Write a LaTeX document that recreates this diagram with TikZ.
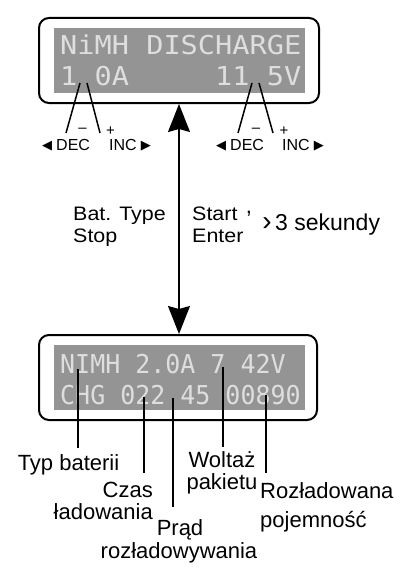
\documentclass[tikz,border=0pt]{standalone}
\usepackage{fontspec}
\setmainfont{Liberation Sans}
\newfontfamily\lcdfont[FakeStretch=1.1]{DejaVu Sans Mono}
\newfontfamily\lcdnarrow[FakeStretch=0.96]{DejaVu Sans Mono}
\newfontfamily\symfont{DejaVu Sans}
\newfontfamily\midfont[FakeStretch=1.1]{Liberation Sans}
\usepackage{tikz}
\usetikzlibrary{arrows.meta,positioning,calc}
\definecolor{lcdgray}{RGB}{148,148,148}
\definecolor{lcdtext}{RGB}{222,222,222}

\begin{document}
\begin{tikzpicture}[x=1pt,y=-1pt,
  frame/.style={draw,line width=2pt,rounded corners=10pt,inner sep=0},
  screen/.style={fill=lcdgray,inner sep=0},
  lcdtop/.style={text=lcdtext,inner sep=0,anchor=base west,
                 font=\lcdfont\fontsize{26}{26}\selectfont},
  lcdbot/.style={text=lcdtext,inner sep=0,anchor=base west,
                 font=\lcdnarrow\fontsize{26}{26}\selectfont},
  keylbl/.style={inner sep=0,anchor=base west,font=\fontsize{16}{16}\selectfont},
  sign/.style={inner sep=0,font=\fontsize{15}{15}\selectfont},
  cmd/.style={inner sep=0,anchor=base west,font=\midfont\fontsize{19.5}{20}\selectfont},
  lbl/.style={inner sep=0,anchor=base,font=\fontsize{22}{22}\selectfont},
  leader/.style={line width=1.5pt},
  dblarrow/.style={line width=1.5pt,
    {Stealth[length=28pt,width=22pt,inset=3pt]}-{Stealth[length=28pt,width=22pt,inset=3pt]}}]
  \useasboundingbox (0,0) rectangle (410,578);

  % upper display
  \node[frame,minimum width=280pt,minimum height=85pt] (top) at (179,60.5) {};
  \node[screen,minimum width=251pt,minimum height=65pt] (topscr) at (179.5,60.5) {};
  \node[lcdtop] (tl1) at (60,55) {NiMH DISCHARGE};
  \node[lcdtop] (tl2) at (60,85) {1 0A\ \ \ \ \ 11 5V};

  % DEC / INC keys
  \node[keylbl] (decl) at (42,150)
    {{\symfont\fontsize{13}{13}\selectfont\raisebox{0.5pt}{◀}}\hspace{4pt}DEC};
  \node[keylbl] (incl) at (109,150)
    {INC\hspace{4pt}{\symfont\fontsize{13}{13}\selectfont\raisebox{0.5pt}{▶}}};
  \node[keylbl] (decr) at (216,150)
    {{\symfont\fontsize{13}{13}\selectfont\raisebox{0.5pt}{◀}}\hspace{4pt}DEC};
  \node[keylbl] (incr) at (282,150)
    {INC\hspace{4pt}{\symfont\fontsize{13}{13}\selectfont\raisebox{0.5pt}{▶}}};
  \node[sign] (minl) at (82.5,130) {–};
  \node[sign] (plusl) at (110.5,131) {+};
  \node[sign] (minr) at (256,130) {–};
  \node[sign] (plusr) at (284,131) {+};

  \coordinate (d1) at (80,83);
  \coordinate (i1) at (87,83);
  \coordinate (d2) at (252,83);
  \coordinate (i2) at (259,83);
  \coordinate (d1e) at (66,133);
  \coordinate (i1e) at (100,133);
  \coordinate (d2e) at (238,133);
  \coordinate (i2e) at (273,133);
  \draw[leader] (d1) -- (d1e);
  \draw[leader] (i1) -- (i1e);
  \draw[leader] (d2) -- (d2e);
  \draw[leader] (i2) -- (i2e);

  % lower display
  \node[frame,minimum width=278pt,minimum height=85pt] (bot) at (178,377.5) {};
  \node[screen,minimum width=251pt,minimum height=65pt] (botscr) at (179.5,377.5) {};
  \node[lcdbot] (bl1) at (60,373) {NIMH 2.0A 7 42V};
  \node[lcdbot] (bl2) at (60,404) {CHG 022 45 00890};

  % key commands
  \draw[dblarrow] (top.south) -- (top.south |- bot.north);
  \node[cmd] (bat) at (73,220) {Bat. Type};
  \node[cmd] (stop) at (73,242) {Stop};
  \node[cmd] (start) at (192,220) {Start};
  \node[cmd] (enter) at (192,242) {Enter};
  \node[inner sep=0,anchor=base,font=\fontsize{22}{22}\selectfont] (comma) at (249,213) {,};
  \node[inner sep=0,anchor=base,font=\fontsize{28}{28}\selectfont] (gt) at (267,230) {›};
  \node[inner sep=0,anchor=base west,font=\fontsize{23}{23}\selectfont] (sek) at (275,230) {3 sekundy};

  % field labels
  \node[lbl] (typ) at (68.5,470) {Typ baterii};
  \node[lbl,anchor=base east] (czas) at (153,497) {Czas};
  \node[lbl,anchor=base east] (czas2) at (153,519) {ładowania};
  \node[lbl] (prad) at (180,535) {Prąd};
  \node[lbl] (prad2) at (179,558) {rozładowywania};
  \node[lbl] (wolt) at (222,467) {Woltaż};
  \node[lbl] (wolt2) at (222,489) {pakietu};
  \node[lbl,anchor=base west] (rozl) at (260,498) {Rozładowana};
  \node[lbl,anchor=base west] (rozl2) at (260,527) {pojemność};

  \coordinate (p1) at (78,369);
  \coordinate (p2) at (144,397);
  \coordinate (p3) at (173,398);
  \coordinate (p4) at (223,367);
  \coordinate (p5) at (266,395);
  \draw[leader] (p1) -- ($(typ.north -| p1)+(0,-6)$);
  \draw[leader] (p2) -- ($(czas.north -| p2)+(0,-8)$);
  \draw[leader] (p3) -- ($(prad.north -| p3)+(0,-12)$);
  \draw[leader] (p4) -- ($(wolt.north -| p4)+(0,-4)$);
  \draw[leader] (p5) -- ($(rozl.north -| p5)+(0,-9)$);
\end{tikzpicture}
\end{document}
